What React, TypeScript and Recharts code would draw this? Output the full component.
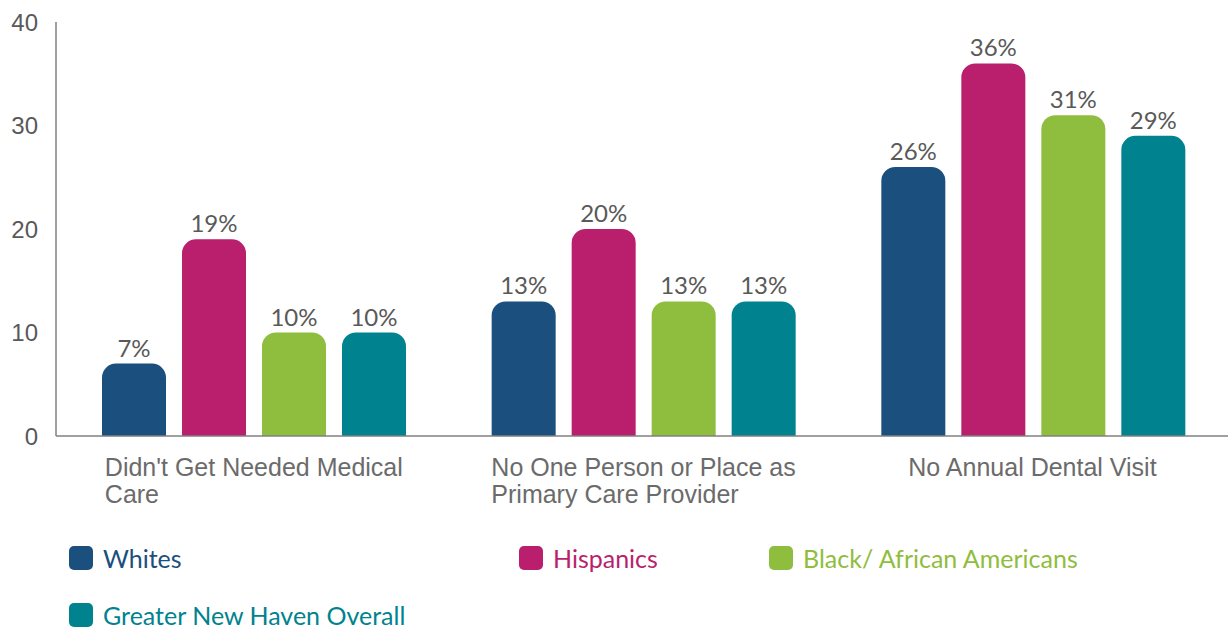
import React from "react";
import { BarChart, Bar, XAxis, YAxis, LabelList } from "recharts";

const categories = [
  "Didn't Get Needed Medical Care",
  "No One Person or Place as Primary Care Provider",
  "No Annual Dental Visit",
];
const seriesNames = ["Whites", "Hispanics", "Black/ African Americans", "Greater New Haven Overall"];
const seriesColors = ["#1B4F7E", "#B91F6C", "#8FBD3E", "#00838F"];
const whites = [7, 13, 26];
const hispanics = [19, 20, 36];
const black = [10, 13, 31];
const overall = [10, 13, 29];
const yTicks = [0, 10, 20, 30, 40];

const seriesValues = [whites, hispanics, black, overall];
const keys = ["s0", "s1", "s2", "s3"];

const data = categories.map((c, i) => {
  const row: any = { name: c };
  seriesValues.forEach((vals, s) => {
    row[keys[s]] = vals[i];
  });
  return row;
});

const CAT_FONT = "25px 'Liberation Sans', Arial, sans-serif";

function wrap(text: string, maxChars: number): string[] {
  const words = text.split(" ");
  const lines: string[] = [];
  let cur = "";
  for (const w of words) {
    const next = cur ? cur + " " + w : w;
    if (next.length > maxChars && cur) {
      lines.push(cur);
      cur = w;
    } else {
      cur = next;
    }
  }
  if (cur) lines.push(cur);
  return lines;
}

let ctx: CanvasRenderingContext2D | null = null;
function measure(t: string): number {
  if (!ctx) {
    const c = document.createElement("canvas");
    ctx = c.getContext("2d");
  }
  if (!ctx) return t.length * 12;
  ctx.font = CAT_FONT;
  return ctx.measureText(t).width;
}

const CategoryTick = (props: any) => {
  const { x, y, payload } = props;
  const lines = wrap(String(payload.value), 26);
  const maxW = Math.max(...lines.map(measure));
  const left = x - maxW / 2;
  return (
    <text
      x={left}
      y={y}
      fill="#6B6B6B"
      fontSize={25}
      fontFamily="'Liberation Sans', Arial, sans-serif"
      textAnchor="start"
    >
      {lines.map((l, i) => (
        <tspan key={i} x={left} dy={i === 0 ? 32 : 27}>
          {l}
        </tspan>
      ))}
    </text>
  );
};

const legendPos = [
  { left: 69, top: 546 },
  { left: 519, top: 546 },
  { left: 769, top: 546 },
  { left: 69, top: 603 },
];

export default function App() {
  return (
    <div style={{ position: "absolute", left: 0, top: 0, width: 1231, height: 630, background: "#fff" }}>
      <BarChart
        width={1231}
        height={630}
        data={data}
        margin={{ top: 22, right: 3, left: 0, bottom: 114 }}
        barSize={64}
        barGap={16}
      >
        <YAxis
          domain={[0, 40]}
          ticks={yTicks}
          width={56}
          tickLine={false}
          axisLine={{ stroke: "#808080", strokeWidth: 1.5 }}
          tick={{ fill: "#595959", fontSize: 24, fontFamily: "'Liberation Sans', Arial, sans-serif" }}
          tickMargin={12}
        />
        <XAxis
          dataKey="name"
          height={80}
          tickLine={false}
          interval={0}
          padding={{ left: 3, right: 0 }}
          axisLine={{ stroke: "#808080", strokeWidth: 1.5 }}
          tick={<CategoryTick />}
        />
        {keys.map((k, s) => (
          <Bar key={k} dataKey={k} fill={seriesColors[s]} radius={[14, 14, 0, 0]} isAnimationActive={false}>
            <LabelList
              dataKey={k}
              position="top"
              offset={7}
              formatter={(v: any) => `${v}%`}
              fill="#595959"
              fontSize={24}
              fontFamily="Lato, sans-serif"
            />
          </Bar>
        ))}
      </BarChart>
      {seriesNames.map((n, s) => (
        <div
          key={n}
          style={{
            position: "absolute",
            left: legendPos[s].left,
            top: legendPos[s].top,
            display: "flex",
            alignItems: "center",
            height: 24,
            lineHeight: "24px",
            fontFamily: "Lato, sans-serif",
            fontSize: 25,
            color: seriesColors[s],
            whiteSpace: "nowrap",
          }}
        >
          <span
            style={{
              display: "inline-block",
              width: 24,
              height: 24,
              borderRadius: 5,
              background: seriesColors[s],
              marginRight: 10,
            }}
          />
          {n}
        </div>
      ))}
    </div>
  );
}
